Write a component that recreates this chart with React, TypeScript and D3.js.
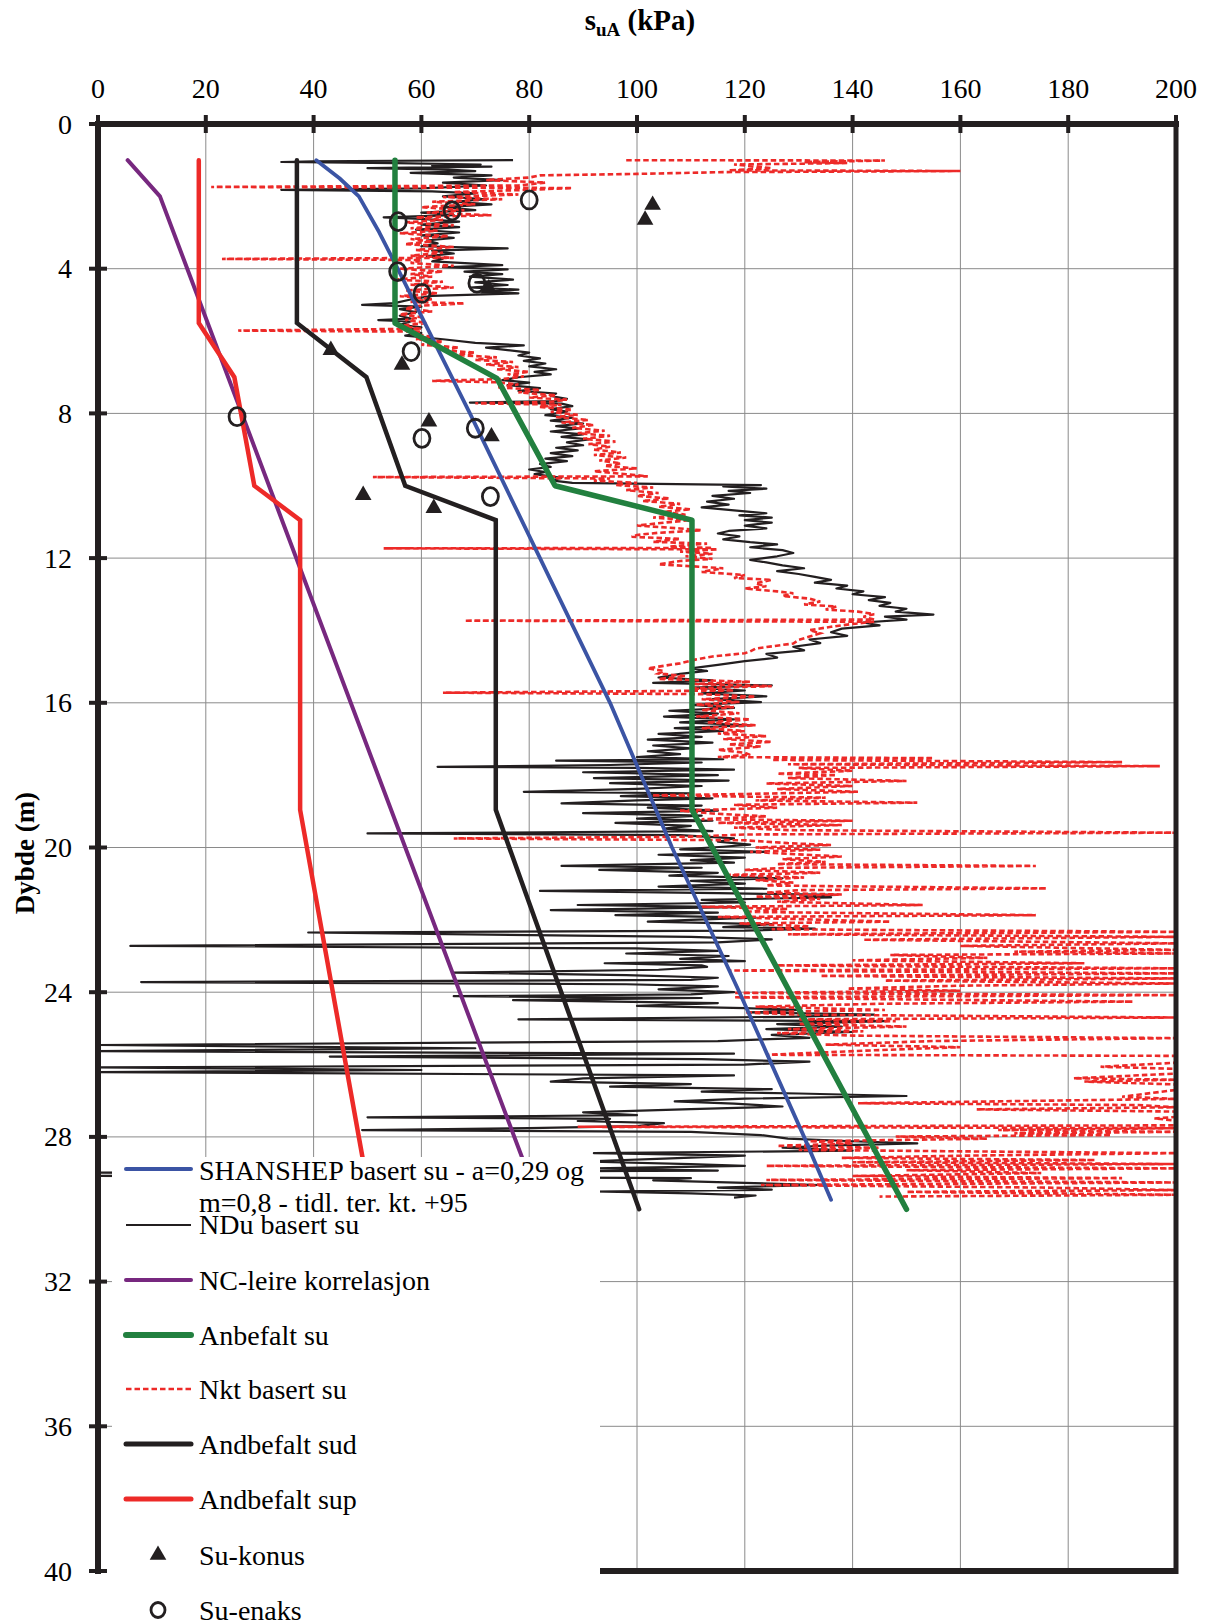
import React from 'react';
import * as d3 from 'd3';

type P = [number, number]; // [depth m, su kPa]

const xTicks = [0, 20, 40, 60, 80, 100, 120, 140, 160, 180, 200];
const yTicks = [0, 4, 8, 12, 16, 20, 24, 28, 32, 36, 40];

const shanshep: P[] = [[1, 40.5], [1.5, 44.8], [2, 48.4], [3, 52.2], [4, 55.6], [8, 69], [12, 82], [16, 95], [20, 106.5], [24, 119], [28, 131], [29.74, 136]];
const ncLeire: P[] = [[1, 5.5], [2, 11.5], [30, 82.3]];
const anbefaltSu: P[] = [[1, 55.1], [5.5, 55.1], [7.03, 74], [10.0, 84.8], [10.95, 110.2], [18.96, 110.2], [30, 150]];
const andbefaltSud: P[] = [[1, 36.9], [5.5, 36.9], [7.0, 49.8], [10.0, 57], [10.95, 73.8], [18.96, 73.8], [30, 100.4]];
const andbefaltSup: P[] = [[1, 18.7], [5.5, 18.7], [7.0, 25.3], [10.0, 29], [10.95, 37.5], [18.96, 37.5], [30, 50.8]];

const suKonus: P[] = [[2.24, 102.9], [2.65, 101.5], [4.55, 72.5], [6.25, 43.2], [6.66, 56.4], [8.23, 61.4], [8.64, 73], [10.26, 49.2], [10.62, 62.3]];
const suEnaks: P[] = [[2.1, 80], [2.4, 65.7], [2.7, 55.7], [4.08, 55.6], [4.4, 70.3], [4.68, 60.1], [6.29, 58.1], [8.09, 25.8], [8.41, 70], [8.69, 60.1], [10.3, 72.8]];

const nduUpper: P[] = [
  [1.00, 77], [1.03, 40], [1.05, 34], [1.08, 55], [1.12, 71], [1.15, 62], [1.18, 73], [1.22, 50], [1.26, 65], [1.30, 70], [1.35, 58], [1.42, 73], [1.48, 66], [1.55, 75], [1.62, 64], [1.70, 72], [1.78, 60], [1.82, 34], [1.86, 62], [1.92, 70], [2.00, 64], [2.08, 72], [2.15, 66], [2.22, 73], [2.30, 64], [2.38, 70], [2.45, 60], [2.52, 66], [2.58, 53], [2.62, 60], [2.70, 67], [2.78, 60], [2.85, 67], [2.92, 59], [3.00, 67], [3.08, 60], [3.15, 66], [3.22, 61], [3.30, 63], [3.38, 60], [3.44, 76], [3.50, 62], [3.58, 66], [3.65, 61], [3.72, 64], [3.80, 62], [3.90, 75], [3.96, 64], [4.02, 76], [4.08, 68], [4.15, 75], [4.22, 69], [4.30, 77], [4.38, 70], [4.45, 76], [4.52, 69], [4.58, 78], [4.63, 72], [4.68, 78], [4.75, 62], [4.85, 58], [4.95, 55], [5.00, 49], [5.05, 60], [5.12, 56], [5.20, 59], [5.30, 56], [5.38, 58], [5.42, 52], [5.46, 58], [5.55, 56], [5.62, 60], [5.70, 57],
  [5.78, 60], [5.85, 57], [5.95, 64], [6.05, 70], [6.12, 79], [6.18, 72], [6.25, 76], [6.32, 80], [6.40, 78], [6.48, 82], [6.55, 79], [6.62, 83], [6.70, 80], [6.78, 85], [6.85, 81], [6.92, 84], [7.00, 78], [7.08, 75], [7.15, 80], [7.22, 76], [7.30, 82], [7.38, 78], [7.45, 85], [7.52, 84], [7.60, 87], [7.66, 85], [7.70, 69], [7.73, 86], [7.80, 88], [7.88, 84], [7.95, 87], [8.05, 83], [8.12, 88], [8.20, 84], [8.28, 90], [8.35, 85], [8.42, 89], [8.50, 84], [8.58, 90], [8.65, 86], [8.72, 91], [8.80, 87], [8.88, 90], [8.95, 85], [9.02, 89], [9.10, 84], [9.18, 88], [9.25, 83], [9.32, 87], [9.40, 82], [9.48, 84], [9.55, 80], [9.62, 83], [9.68, 81], [9.78, 86], [9.85, 84], [9.92, 88],
];

const nduMiddle: P[] = [
  [9.98, 123], [10.02, 116], [10.08, 124], [10.14, 117], [10.20, 121], [10.28, 114], [10.36, 118], [10.44, 113], [10.52, 117], [10.60, 112], [10.68, 118], [10.76, 124], [10.82, 119], [10.88, 125], [10.95, 120], [11.02, 125], [11.10, 120], [11.18, 124], [11.25, 117], [11.32, 115], [11.40, 119], [11.48, 116], [11.56, 121], [11.62, 126], [11.70, 121], [11.78, 127], [11.86, 129], [11.95, 126], [12.05, 121], [12.12, 124], [12.20, 127], [12.28, 131], [12.36, 126], [12.44, 130], [12.52, 133], [12.60, 136], [12.68, 133], [12.76, 139], [12.84, 137], [12.92, 142], [13.00, 140], [13.08, 146], [13.16, 143], [13.24, 147], [13.32, 145], [13.40, 150], [13.48, 148], [13.56, 155], [13.62, 146], [13.70, 150], [13.78, 142], [13.86, 145], [13.95, 138], [14.05, 136], [14.15, 139], [14.25, 132], [14.35, 134], [14.45, 129], [14.55, 131], [14.65, 124], [14.75, 126], [14.85, 120], [14.95, 115], [15.05, 110], [15.12, 113], [15.20, 108], [15.30, 104], [15.38, 114], [15.45, 103], [15.52, 125], [15.58, 110], [15.66, 120], [15.74, 112], [15.82, 124], [15.90, 114], [15.98, 123], [16.06, 110], [16.14, 118], [16.22, 106], [16.30, 115], [16.38, 105], [16.46, 118], [16.54, 108], [16.62, 121], [16.70, 107], [16.78, 116], [16.86, 104], [16.94, 112], [17.02, 102], [17.10, 114], [17.18, 103], [17.26, 110], [17.34, 102], [17.42, 108], [17.50, 100], [17.56, 116], [17.60, 85], [17.65, 112], [17.72, 95], [17.77, 63], [17.80, 100], [17.85, 118], [17.92, 90], [18.00, 115], [18.08, 92], [18.15, 117], [18.22, 95], [18.30, 112], [18.38, 100], [18.46, 79], [18.50, 110], [18.58, 97], [18.64, 114], [18.70, 100], [18.78, 86], [18.84, 112], [18.90, 102], [18.98, 115], [19.05, 90], [19.12, 112], [19.20, 100], [19.26, 114], [19.32, 96], [19.40, 110], [19.48, 105], [19.55, 114],
];

const nduLower: P[] = [
  [19.61, 50], [19.66, 108], [19.75, 118], [19.84, 115], [19.92, 121], [19.98, 116], [20.05, 108], [20.12, 124], [20.20, 104], [20.28, 120], [20.35, 110], [20.42, 118], [20.51, 86], [20.56, 112], [20.62, 93], [20.70, 115], [20.78, 106], [20.85, 127], [20.92, 110], [21.00, 120], [21.08, 104], [21.14, 124], [21.20, 82], [21.26, 115], [21.31, 137], [21.34, 131], [21.38, 136], [21.45, 112], [21.52, 120], [21.59, 89], [21.65, 118], [21.73, 84], [21.80, 115], [21.87, 96], [21.94, 122], [22.00, 110], [22.05, 102], [22.12, 125], [22.20, 116], [22.24, 133], [22.30, 120], [22.35, 39], [22.47, 110], [22.54, 125], [22.62, 115], [22.72, 6], [22.79, 100], [22.86, 115], [22.93, 98], [23.00, 117], [23.08, 108], [23.14, 120], [23.20, 94], [23.26, 112], [23.30, 113], [23.38, 104], [23.46, 66], [23.53, 98], [23.60, 115], [23.66, 110], [23.72, 8], [23.78, 98], [23.84, 115], [23.92, 104], [24.00, 118], [24.06, 110], [24.11, 66], [24.16, 112], [24.22, 77], [24.30, 115], [24.38, 100], [24.44, 120], [24.49, 130], [24.56, 121], [24.62, 144], [24.68, 128], [24.75, 78], [24.80, 146], [24.88, 126], [24.95, 138], [25.02, 124], [25.10, 140], [25.18, 125], [25.26, 132], [25.35, 115],
  [25.46, 0], [25.55, 70], [25.63, 0], [25.70, 118], [25.78, 43], [25.85, 112], [25.92, 132], [26.00, 120], [26.08, 0], [26.15, 60], [26.21, 0], [26.30, 118], [26.38, 90], [26.47, 84], [26.54, 110], [26.61, 95], [26.68, 125], [26.75, 112], [26.80, 130], [26.87, 150], [26.94, 120], [27.02, 107], [27.08, 118], [27.16, 127], [27.23, 110], [27.32, 90], [27.40, 100], [27.46, 50], [27.50, 95], [27.56, 89], [27.62, 105], [27.70, 100], [27.76, 80], [27.81, 49], [27.86, 110], [27.95, 123], [28.05, 128], [28.12, 140], [28.18, 152], [28.24, 135], [28.30, 127], [28.38, 140], [28.45, 92], [28.52, 120], [28.60, 105], [28.68, 90], [28.75, 110], [28.80, 120], [28.87, 92], [28.93, 115], [28.99, 0], [29.04, 80], [29.08, 0], [29.14, 110], [29.20, 103], [29.27, 120], [29.33, 134], [29.40, 115], [29.46, 125], [29.51, 92], [29.56, 110], [29.62, 122], [29.68, 118],
];

const nktUpper: P[] = [
  [1.00, 98], [1.01, 146], [1.05, 131], [1.08, 139], [1.12, 118], [1.22, 125], [1.28, 117], [1.30, 160], [1.33, 116], [1.38, 100], [1.42, 82], [1.48, 80], [1.55, 72], [1.62, 83], [1.70, 78], [1.74, 21], [1.77, 88], [1.82, 80], [1.88, 66], [1.95, 78], [2.02, 64], [2.08, 75], [2.15, 62], [2.22, 70], [2.30, 60], [2.38, 68], [2.45, 61], [2.52, 73], [2.58, 59], [2.65, 64], [2.72, 57], [2.80, 66], [2.88, 58], [2.95, 63], [3.02, 56], [3.10, 65], [3.18, 58], [3.25, 62], [3.32, 57], [3.40, 66], [3.48, 59], [3.56, 64], [3.64, 58], [3.70, 66], [3.73, 23], [3.76, 60], [3.84, 58], [3.92, 66], [4.00, 56], [4.08, 64], [4.15, 58], [4.22, 62], [4.30, 55], [4.36, 64], [4.44, 58], [4.52, 66], [4.60, 57], [4.68, 63], [4.76, 56], [4.84, 62], [4.92, 58], [4.96, 68], [5.02, 60], [5.10, 57], [5.18, 62], [5.26, 56], [5.34, 60], [5.42, 57], [5.50, 61], [5.58, 56], [5.66, 60], [5.71, 26], [5.74, 60],
  [5.80, 58], [5.88, 62], [5.95, 59], [6.02, 64], [6.10, 60], [6.18, 67], [6.25, 63], [6.32, 70], [6.38, 66], [6.45, 74], [6.52, 70], [6.58, 77], [6.65, 72], [6.72, 78], [6.78, 74], [6.85, 80], [6.92, 76], [6.98, 79], [7.05, 75], [7.10, 62], [7.14, 74], [7.20, 78], [7.28, 74], [7.35, 82], [7.42, 78], [7.50, 85], [7.56, 80], [7.62, 87], [7.68, 84], [7.72, 70], [7.76, 86], [7.82, 82], [7.90, 88], [7.96, 84], [8.04, 89], [8.10, 85], [8.18, 91], [8.25, 86], [8.32, 92], [8.40, 88], [8.48, 94], [8.55, 89], [8.62, 95], [8.70, 90], [8.78, 96], [8.85, 91], [8.92, 95], [9.00, 92], [9.08, 97], [9.15, 92], [9.22, 98], [9.30, 93], [9.38, 97], [9.45, 94], [9.52, 100], [9.60, 92], [9.68, 98], [9.74, 102], [9.76, 51], [9.80, 95], [9.86, 92], [9.92, 100], [9.98, 96], [10.05, 103], [10.12, 98], [10.20, 104], [10.28, 100], [10.35, 106], [10.42, 101], [10.50, 108], [10.58, 104], [10.65, 110], [10.72, 105], [10.80, 109], [10.88, 103], [10.95, 110], [11.02, 105], [11.10, 100], [11.18, 108], [11.23, 112], [11.30, 104],
];

const nktMiddle: P[] = [
  [11.36, 100], [11.41, 99], [11.47, 108], [11.55, 103], [11.60, 113], [11.68, 106], [11.72, 114], [11.73, 53], [11.76, 115], [11.82, 108], [11.88, 114], [11.95, 109], [12.02, 114], [12.08, 108], [12.17, 104], [12.28, 116], [12.38, 112], [12.47, 120], [12.55, 118], [12.60, 125], [12.70, 122], [12.78, 124], [12.84, 120], [12.92, 126], [12.97, 129], [13.05, 127], [13.12, 132], [13.20, 134], [13.28, 131], [13.34, 137], [13.42, 135], [13.48, 141], [13.55, 144], [13.62, 142], [13.70, 144], [13.73, 68], [13.76, 144], [13.82, 140], [13.90, 136], [13.99, 132], [14.08, 134], [14.17, 132], [14.26, 130], [14.36, 129], [14.44, 125], [14.50, 122], [14.58, 121], [14.63, 120], [14.72, 114], [14.80, 111], [14.91, 108], [15.00, 104], [15.05, 102], [15.12, 105], [15.19, 104], [15.26, 109], [15.34, 104], [15.42, 121], [15.48, 110], [15.54, 125], [15.60, 110], [15.66, 118], [15.72, 64], [15.76, 112], [15.83, 122], [15.90, 112], [15.98, 119], [16.05, 111], [16.12, 118], [16.20, 112], [16.29, 119], [16.38, 111], [16.46, 121], [16.54, 113], [16.62, 122], [16.70, 112], [16.78, 120], [16.85, 115], [16.92, 124], [17.00, 116], [17.08, 125], [17.15, 117], [17.21, 123], [17.30, 115], [17.38, 120], [17.44, 121], [17.50, 115], [17.53, 155], [17.58, 125], [17.64, 190], [17.70, 128], [17.75, 197], [17.80, 130], [17.88, 140], [17.96, 126], [18.00, 137], [18.08, 128], [18.16, 150], [18.23, 124], [18.30, 140], [18.38, 126], [18.46, 141], [18.52, 120], [18.56, 102], [18.62, 135], [18.70, 122], [18.76, 152], [18.82, 118], [18.90, 126], [18.98, 108], [19.06, 114], [19.14, 124], [19.22, 112], [19.26, 140], [19.32, 115], [19.38, 138], [19.45, 118], [19.52, 128], [19.59, 200], [19.64, 120], [19.70, 110], [19.75, 66], [19.80, 120],
];

const nktLower: P[] = [
  [19.88, 128], [19.93, 136], [20.00, 122], [20.06, 134], [20.12, 121], [20.19, 130], [20.25, 138], [20.32, 127], [20.40, 135], [20.46, 126], [20.51, 174], [20.56, 128], [20.62, 120], [20.70, 134], [20.76, 116], [20.83, 131], [20.90, 122], [20.97, 129], [21.05, 124], [21.13, 176], [21.18, 130], [21.25, 124], [21.30, 138], [21.36, 122], [21.42, 134], [21.50, 126], [21.59, 153], [21.64, 112], [21.70, 128], [21.78, 120], [21.87, 174], [21.92, 115], [21.98, 130], [22.05, 147], [22.10, 119], [22.18, 132], [22.26, 125], [22.33, 200], [22.40, 128], [22.47, 200], [22.55, 142], [22.65, 200], [22.72, 160], [22.83, 200], [22.88, 170], [22.93, 200], [22.97, 147], [23.05, 165], [23.12, 140], [23.20, 183], [23.26, 126], [23.34, 200], [23.40, 117], [23.48, 200], [23.55, 134], [23.62, 200], [23.68, 146], [23.76, 200], [23.82, 160], [23.90, 139], [23.96, 160], [24.02, 118], [24.08, 200], [24.14, 118], [24.20, 150], [24.26, 192], [24.32, 145], [24.40, 122], [24.49, 146], [24.56, 120], [24.62, 130], [24.70, 200], [24.75, 130],
  [24.80, 148], [24.88, 130], [24.95, 150], [25.02, 128], [25.08, 142], [25.13, 126], [25.20, 140], [25.27, 200], [25.35, 155], [25.45, 135], [25.52, 160], [25.60, 145], [25.68, 132], [25.73, 124], [25.76, 200], [25.85, 200], [25.95, 200], [26.06, 186], [26.12, 200], [26.25, 200], [26.38, 181], [26.42, 200], [26.47, 183], [26.55, 200], [26.70, 200], [26.89, 190], [26.95, 200], [27.07, 141], [27.12, 193], [27.18, 200], [27.24, 163], [27.30, 200], [27.45, 200], [27.49, 196], [27.55, 200], [27.68, 200], [27.72, 89], [27.76, 200], [27.81, 167], [27.86, 200], [27.90, 170], [27.95, 188], [27.99, 148], [28.05, 165], [28.12, 132], [28.18, 140], [28.25, 126], [28.30, 145], [28.36, 130], [28.45, 200], [28.52, 160], [28.58, 138], [28.64, 185], [28.70, 140], [28.75, 200], [28.80, 124], [28.87, 200], [28.92, 150], [29.00, 175], [29.08, 140], [29.14, 190], [29.19, 124], [29.26, 200], [29.33, 123], [29.40, 175], [29.47, 200], [29.52, 150], [29.60, 200], [29.65, 145],
];

const nduSeries: P[] = [...nduUpper, ...nduMiddle, ...nduLower];
const nktSeries: P[] = [...nktUpper, ...nktMiddle, ...nktLower];

const COLORS = {
  blue: '#3b54a4',
  purple: '#77287f',
  green: '#22803f',
  red: '#ed2a28',
  black: '#231f20',
  grid: '#8a8a8a',
};

const FONT = "'Liberation Serif', 'Times New Roman', serif";

export default function App() {
  const W = 1209;
  const H = 1622;
  const L = 98, R = 1176, T = 124, B = 1571;
  const x = d3.scaleLinear().domain([0, 200]).range([L, R]);
  const y = d3.scaleLinear().domain([0, 40]).range([T, B]);
  const line = d3.line<P>().x((d) => x(d[1])).y((d) => y(d[0]));
  const tri = d3.symbol().type(d3.symbolTriangle).size(120)() as string;

  const legendX1 = 126, legendX2 = 191, textX = 199;
  const fs = 28;

  return (
    <svg width={W} height={H} viewBox={`0 0 ${W} ${H}`} style={{ position: 'absolute', left: 0, top: 0, background: '#fff' }} fontFamily={FONT}>
      <defs>
        <clipPath id="plot">
          <rect x={L} y={T} width={R - L} height={B - T} />
        </clipPath>
      </defs>
      <rect x={0} y={0} width={W} height={H} fill="#fff" />
      {xTicks.slice(1, -1).map((t) => (
        <line key={'gx' + t} x1={x(t)} x2={x(t)} y1={T} y2={B} stroke={COLORS.grid} strokeWidth={1} />
      ))}
      {yTicks.slice(1, -1).map((t) => (
        <line key={'gy' + t} x1={L} x2={R} y1={y(t)} y2={y(t)} stroke={COLORS.grid} strokeWidth={1} />
      ))}

      <g clipPath="url(#plot)">
        <path d={line(nduSeries) || ''} fill="none" stroke={COLORS.black} strokeWidth={2.2} strokeLinejoin="round" />
        <path d={line(nktSeries) || ''} fill="none" stroke={COLORS.red} strokeWidth={2.6} strokeDasharray="5.5,3" />
        <path d={line(shanshep) || ''} fill="none" stroke={COLORS.blue} strokeWidth={3.8} strokeLinecap="round" strokeLinejoin="round" />
        <path d={line(ncLeire) || ''} fill="none" stroke={COLORS.purple} strokeWidth={4} strokeLinecap="round" strokeLinejoin="round" />
        <path d={line(anbefaltSu) || ''} fill="none" stroke={COLORS.green} strokeWidth={5.5} strokeLinecap="round" strokeLinejoin="round" />
        <path d={line(andbefaltSud) || ''} fill="none" stroke={COLORS.black} strokeWidth={4.5} strokeLinecap="round" strokeLinejoin="miter" />
        <path d={line(andbefaltSup) || ''} fill="none" stroke={COLORS.red} strokeWidth={4.5} strokeLinecap="round" strokeLinejoin="miter" />
        {suKonus.map((d, i) => (
          <path key={'k' + i} d={tri} transform={`translate(${x(d[1])},${y(d[0])})`} fill={COLORS.black} />
        ))}
        {suEnaks.map((d, i) => (
          <ellipse key={'e' + i} cx={x(d[1])} cy={y(d[0])} rx={8} ry={9} fill="none" stroke={COLORS.black} strokeWidth={2.8} />
        ))}
      </g>

      <rect x={112} y={1157} width={488} height={H - 1157} fill="#fff" />

      <line x1={L} x2={R + 3} y1={T} y2={T} stroke={COLORS.black} strokeWidth={6} />
      <line x1={L} x2={L} y1={T - 3} y2={B + 3} stroke={COLORS.black} strokeWidth={6} />
      <line x1={R} x2={R} y1={T - 3} y2={B + 3} stroke={COLORS.black} strokeWidth={5} />
      <line x1={600} x2={R + 2} y1={B} y2={B} stroke={COLORS.black} strokeWidth={6} />
      {xTicks.map((t) => (
        <line key={'tx' + t} x1={x(t)} x2={x(t)} y1={T - 9} y2={T + 9} stroke={COLORS.black} strokeWidth={4} />
      ))}
      {yTicks.map((t) => (
        <line key={'ty' + t} x1={L - 9} x2={L + 9} y1={y(t)} y2={y(t)} stroke={COLORS.black} strokeWidth={4} />
      ))}
      {xTicks.map((t) => (
        <text key={'lx' + t} x={x(t)} y={98} fontSize={fs} textAnchor="middle" fill="#000">{t}</text>
      ))}
      {yTicks.map((t) => (
        <text key={'ly' + t} x={72} y={y(t) + 9.5} fontSize={fs} textAnchor="end" fill="#000">{t}</text>
      ))}

      <text x={640} y={30} textAnchor="middle" fontSize={29} fontWeight="bold" fill="#000">
        s<tspan fontSize={19} dy={6}>uA</tspan><tspan dy={-6}> (kPa)</tspan>
      </text>
      <text transform="translate(34,853) rotate(-90)" textAnchor="middle" fontSize={27} fontWeight="bold" fill="#000">Dybde (m)</text>

      <g fontSize={fs} fill="#000">
        <line x1={legendX1} x2={legendX2} y1={1169} y2={1169} stroke={COLORS.blue} strokeWidth={4} strokeLinecap="round" />
        <text x={textX} y={1180}>SHANSHEP basert su - a=0,29 og</text>
        <text x={textX} y={1212}>m=0,8 - tidl. ter. kt. +95</text>

        <line x1={legendX1} x2={legendX2} y1={1225} y2={1225} stroke={COLORS.black} strokeWidth={2} />
        <text x={textX} y={1234}>NDu basert su</text>

        <line x1={legendX1} x2={legendX2} y1={1280} y2={1280} stroke={COLORS.purple} strokeWidth={4} strokeLinecap="round" />
        <text x={textX} y={1290}>NC-leire korrelasjon</text>

        <line x1={legendX1} x2={legendX2} y1={1335} y2={1335} stroke={COLORS.green} strokeWidth={6} strokeLinecap="round" />
        <text x={textX} y={1345}>Anbefalt su</text>

        <line x1={legendX1} x2={legendX2} y1={1389} y2={1389} stroke={COLORS.red} strokeWidth={2.6} strokeDasharray="5.5,3" />
        <text x={textX} y={1399}>Nkt basert su</text>

        <line x1={legendX1} x2={legendX2} y1={1444} y2={1444} stroke={COLORS.black} strokeWidth={5} strokeLinecap="round" />
        <text x={textX} y={1454}>Andbefalt sud</text>

        <line x1={legendX1} x2={legendX2} y1={1499} y2={1499} stroke={COLORS.red} strokeWidth={5} strokeLinecap="round" />
        <text x={textX} y={1509}>Andbefalt sup</text>

        <path d={tri} transform="translate(158,1555)" fill={COLORS.black} />
        <text x={textX} y={1565}>Su-konus</text>

        <ellipse cx={158} cy={1610} rx={7} ry={7.5} fill="none" stroke={COLORS.black} strokeWidth={2.8} />
        <text x={textX} y={1620}>Su-enaks</text>
      </g>
    </svg>
  );
}
